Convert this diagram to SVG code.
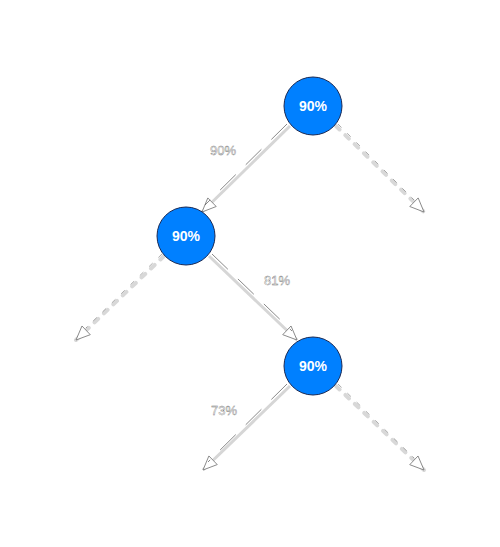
<svg xmlns="http://www.w3.org/2000/svg" width="500" height="547" viewBox="0 0 500 547">
<style>
.node{fill:#0080ff;stroke:#1a2a55;stroke-width:1}
.nt{font-family:"Liberation Sans",Arial,sans-serif;font-size:14px;font-weight:bold;fill:#fff;text-anchor:middle}
.lbl{font-family:"Liberation Sans",Arial,sans-serif;font-size:13px;fill:#fff;stroke:#777;stroke-width:0.4;text-anchor:middle}
.sol{stroke:#d6d6d6;stroke-width:3;fill:none}
.solc{stroke:#555;stroke-width:0.7;fill:none;stroke-dasharray:22 14}
.dash{stroke:#d8d8d8;stroke-width:4;fill:none;stroke-dasharray:5 8;stroke-linecap:round}
.dashc{stroke:#777;stroke-width:0.6;fill:none;stroke-dasharray:5 8}
</style>
<defs>
<marker id="ah" markerUnits="userSpaceOnUse" markerWidth="20" markerHeight="16" refX="15" refY="7" orient="auto">
<path d="M1,1 L15,7 L1,13 Z" fill="#fff" stroke="#777" stroke-width="0.8"/>
</marker>
</defs>
<g id="connectors">
<line class="sol" x1="290" y1="126" x2="202" y2="212" marker-end="url(#ah)"/>
<line class="solc" x1="287" y1="124" x2="205" y2="205"/>
<line class="dash" x1="336" y1="126" x2="424" y2="212" marker-end="url(#ah)"/>
<line class="dashc" x1="338" y1="124" x2="414" y2="200"/>
<line class="dash" x1="164" y1="256" x2="76" y2="340" marker-end="url(#ah)"/>
<line class="dashc" x1="162" y1="254" x2="86" y2="328"/>
<line class="sol" x1="209" y1="256" x2="297" y2="340" marker-end="url(#ah)"/>
<line class="solc" x1="212" y1="254" x2="292" y2="331"/>
<line class="sol" x1="290" y1="386" x2="203" y2="470" marker-end="url(#ah)"/>
<line class="solc" x1="287" y1="384" x2="208" y2="462"/>
<line class="dash" x1="336" y1="386" x2="424" y2="470" marker-end="url(#ah)"/>
<line class="dashc" x1="338" y1="384" x2="414" y2="458"/>
<text class="lbl" x="223" y="155">90%</text>
<text class="lbl" x="277" y="285">81%</text>
<text class="lbl" x="224" y="415">73%</text>
</g>
<g id="n1"><circle class="node" cx="313" cy="106" r="29"/><text class="nt" x="313" y="111">90%</text></g>
<g id="n2"><circle class="node" cx="186" cy="236" r="29"/><text class="nt" x="186" y="241">90%</text></g>
<g id="n3"><circle class="node" cx="313" cy="366" r="29"/><text class="nt" x="313" y="371">90%</text></g>
</svg>
